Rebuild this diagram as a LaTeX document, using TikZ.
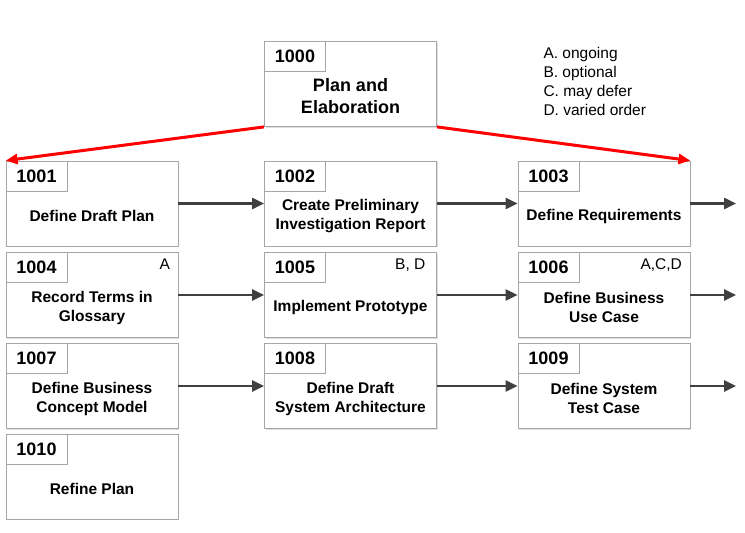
\documentclass[tikz,border=0pt]{standalone}
\usepackage{fontspec}
\setmainfont{Liberation Sans}
\usetikzlibrary{arrows.meta,shadows}

\begin{document}
\begin{tikzpicture}[x=1pt, y=-1pt,
    task/.style = {draw=gray!70, fill=white, line width=0.8pt, minimum width=172pt, minimum height=85pt,
                   drop shadow={shadow xshift=1.2pt, shadow yshift=-1.2pt, opacity=0.25}},
    tab/.style = {draw=gray!70, fill=white, line width=0.8pt, minimum width=61pt, minimum height=30pt,
                  anchor=north west, font=\fontsize{18}{22}\selectfont\bfseries},
    body/.style = {align=center, font=\fontsize{15.5}{19}\selectfont\bfseries},
    tag/.style = {anchor=north east, font=\fontsize{15.5}{19}\selectfont},
    flow/.style = {draw=black!75, line width=2.6pt, -{Triangle[length=12pt,width=11pt]}},
    split/.style = {draw=red, line width=3pt, -{Triangle[length=12pt,width=10pt]}}]
        \useasboundingbox (0,0) rectangle (745,533);

        % top task
        \node[task] (b1000) at (350.5,84) {};
        \node[tab] (t1000) at (b1000.north west) {1000};
        \node[body, font=\fontsize{18}{22}\selectfont\bfseries] (x1000) at ([yshift=-12pt]b1000.center) {Plan and\\Elaboration};

        % legend
        \node[anchor=north west, align=left, font=\fontsize{15.5}{19}\selectfont] (legend) at (540,44)
            {A. ongoing\\B. optional\\C. may defer\\D. varied order};

        % first row
        \node[task] (b1001) at (92,203.5) {};
        \node[tab] (t1001) at (b1001.north west) {1001};
        \node[body] (x1001) at ([yshift=-12.5pt]b1001.center) {Define Draft Plan};
        \node[task] (b1002) at (350.5,203.5) {};
        \node[tab] (t1002) at (b1002.north west) {1002};
        \node[body] (x1002) at ([yshift=-12.5pt]b1002.center) {Create Preliminary\\Investigation Report};
        \node[task] (b1003) at (604,203.5) {};
        \node[tab] (t1003) at (b1003.north west) {1003};
        \node[body] (x1003) at ([yshift=-12.5pt]b1003.center) {Define Requirements};

        % second row
        \node[task] (b1004) at (92,295) {};
        \node[tab] (t1004) at (b1004.north west) {1004};
        \node[body] (x1004) at ([yshift=-12.5pt]b1004.center) {Record Terms in\\Glossary};
        \node[tag] (g1004) at ([xshift=-5pt,yshift=-3pt]b1004.north east) {A};
        \node[task] (b1005) at (350.5,295) {};
        \node[tab] (t1005) at (b1005.north west) {1005};
        \node[body] (x1005) at ([yshift=-12.5pt]b1005.center) {Implement Prototype};
        \node[tag] (g1005) at ([xshift=-8pt,yshift=-3pt]b1005.north east) {B, D};
        \node[task] (b1006) at (604,295) {};
        \node[tab] (t1006) at (b1006.north west) {1006};
        \node[body] (x1006) at ([yshift=-12.5pt]b1006.center) {Define Business\\Use Case};
        \node[tag] (g1006) at ([xshift=-5pt,yshift=-3pt]b1006.north east) {A,C,D};

        % third row
        \node[task] (b1007) at (92,386) {};
        \node[tab] (t1007) at (b1007.north west) {1007};
        \node[body] (x1007) at ([yshift=-12.5pt]b1007.center) {Define Business\\Concept Model};
        \node[task] (b1008) at (350.5,386) {};
        \node[tab] (t1008) at (b1008.north west) {1008};
        \node[body] (x1008) at ([yshift=-12.5pt]b1008.center) {Define Draft\\System Architecture};
        \node[task] (b1009) at (604,386) {};
        \node[tab] (t1009) at (b1009.north west) {1009};
        \node[body] (x1009) at ([yshift=-12.5pt]b1009.center) {Define System\\Test Case};

        % last task
        \node[task] (b1010) at (92,476.5) {};
        \node[tab] (t1010) at (b1010.north west) {1010};
        \node[body] (x1010) at ([yshift=-12.5pt]b1010.center) {Refine Plan};

        % arrows
        \draw[split] (b1000.south west) -- (b1001.north west);
        \draw[split] (b1000.south east) -- (b1003.north east);

        \coordinate (o1003) at (736,203.5);
        \coordinate (o1006) at (736,295);
        \coordinate (o1009) at (736,386);
        \draw[flow] (b1001.east) -- (b1002.west);
        \draw[flow] (b1002.east) -- (b1003.west);
        \draw[flow] (b1003.east) -- (o1003);
        \draw[flow] (b1004.east) -- (b1005.west);
        \draw[flow] (b1005.east) -- (b1006.west);
        \draw[flow] (b1006.east) -- (o1006);
        \draw[flow] (b1007.east) -- (b1008.west);
        \draw[flow] (b1008.east) -- (b1009.west);
        \draw[flow] (b1009.east) -- (o1009);

\end{tikzpicture}
\end{document}
